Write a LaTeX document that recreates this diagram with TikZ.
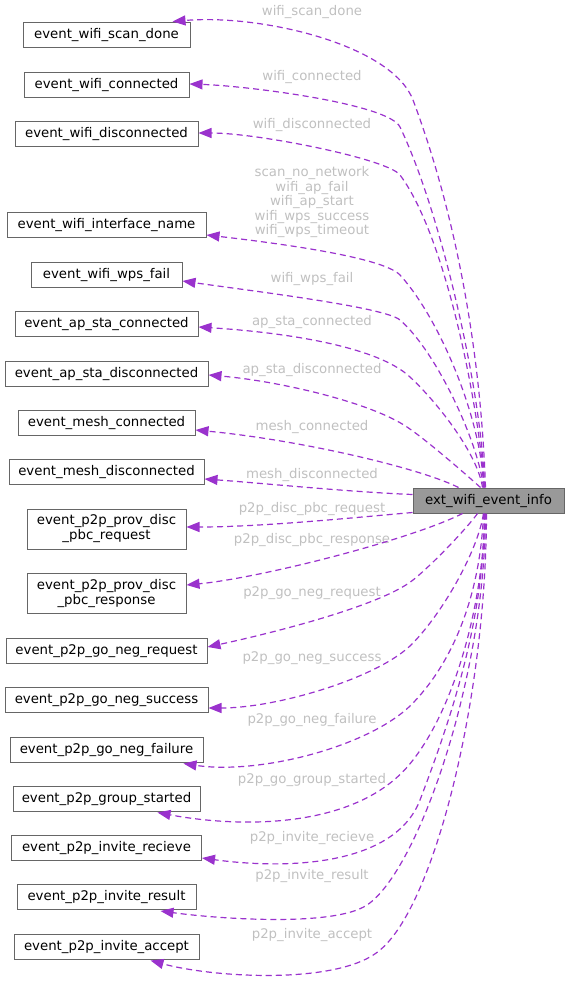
\documentclass[tikz,border=0pt]{standalone}
\usepackage{fontspec}
\setmainfont{DejaVu Sans}
\usetikzlibrary{arrows.meta,calc}
\definecolor{edgec}{HTML}{9A32CD}
\definecolor{labc}{HTML}{C0C0C0}
\definecolor{boxc}{HTML}{666666}
\definecolor{mainfill}{HTML}{999999}
\begin{document}
\begin{tikzpicture}[x=1pt,y=-1pt,
  box/.style={draw=boxc, line width=1pt, fill=white, minimum height=25pt, inner xsep=2pt, inner ysep=0pt,
    font=\fontsize{13.3}{15}\selectfont, text height=10pt, text depth=3pt},
  box2/.style={draw=boxc, line width=1pt, fill=white, minimum height=40pt, inner xsep=2pt, inner ysep=0pt,
    font=\fontsize{13.3}{15}\selectfont, align=center},
  lab/.style={text=labc, inner sep=0pt, anchor=base, font=\fontsize{13.3}{14.5}\selectfont},
  rel/.style={draw=edgec, line width=1.2pt, dash pattern=on 6pt off 4pt, -{Triangle[length=13pt,width=10pt]}}]
\useasboundingbox (0,0) rectangle (569,984);
% nodes
\node[box, fill=mainfill, minimum width=151pt] (main) at (488.5,500.5) {ext\_wifi\_event\_info};
\node[box, minimum width=167pt] (n1) at (106.5,35.5) {event\_wifi\_scan\_done};
\node[box, minimum width=165pt] (n2) at (106.5,85.5) {event\_wifi\_connected};
\node[box, minimum width=183pt] (n3) at (106.5,134.5) {event\_wifi\_disconnected};
\node[box, minimum width=199pt] (n4) at (106.5,225.5) {event\_wifi\_interface\_name};
\node[box, minimum width=151pt] (n5) at (106.5,274.5) {event\_wifi\_wps\_fail};
\node[box, minimum width=183pt] (n6) at (106.5,323.5) {event\_ap\_sta\_connected};
\node[box, minimum width=203pt] (n7) at (106.5,373.5) {event\_ap\_sta\_disconnected};
\node[box, minimum width=177pt] (n8) at (106.5,422.5) {event\_mesh\_connected};
\node[box, minimum width=195pt] (n9) at (106.5,471.5) {event\_mesh\_disconnected};
\node[box2, minimum width=159pt] (n10) at (106.5,529) {event\_p2p\_prov\_disc\\\_pbc\_request};
\node[box2, minimum width=159pt] (n11) at (106.5,593.5) {event\_p2p\_prov\_disc\\\_pbc\_response};
\node[box, minimum width=201pt] (n12) at (106.5,650.5) {event\_p2p\_go\_neg\_request};
\node[box, minimum width=203pt] (n13) at (106.5,699.5) {event\_p2p\_go\_neg\_success};
\node[box, minimum width=193pt] (n14) at (106.5,749.5) {event\_p2p\_go\_neg\_failure};
\node[box, minimum width=187pt] (n15) at (106.5,798.5) {event\_p2p\_group\_started};
\node[box, minimum width=190pt] (n16) at (106.5,847.5) {event\_p2p\_invite\_recieve};
\node[box, minimum width=179pt] (n17) at (106.5,897) {event\_p2p\_invite\_result};
\node[box, minimum width=185pt] (n18) at (106.5,946.5) {event\_p2p\_invite\_accept};
% labels
\node[lab] (l1) at (312,16) {wifi\_scan\_done};
\node[lab] (l2) at (312,81) {wifi\_connected};
\node[lab] (l3) at (312,128.5) {wifi\_disconnected};
\node[lab, anchor=center, align=center] (l4) at (312,202.5) {scan\_no\_network\\wifi\_ap\_fail\\wifi\_ap\_start\\wifi\_wps\_success\\wifi\_wps\_timeout};
\node[lab] (l5) at (312,282) {wifi\_wps\_fail};
\node[lab] (l6) at (312,325) {ap\_sta\_connected};
\node[lab] (l7) at (312,373) {ap\_sta\_disconnected};
\node[lab] (l8) at (312,430) {mesh\_connected};
\node[lab] (l9) at (312,478) {mesh\_disconnected};
\node[lab] (l10) at (312,512) {p2p\_disc\_pbc\_request};
\node[lab] (l11) at (312,543) {p2p\_disc\_pbc\_response};
\node[lab] (l12) at (312,596) {p2p\_go\_neg\_request};
\node[lab] (l13) at (312,661) {p2p\_go\_neg\_success};
\node[lab] (l14) at (312,723) {p2p\_go\_neg\_failure};
\node[lab] (l15) at (312,783) {p2p\_go\_group\_started};
\node[lab] (l16) at (312,841) {p2p\_invite\_recieve};
\node[lab] (l17) at (312,879) {p2p\_invite\_result};
\node[lab] (l18) at (312,938) {p2p\_invite\_accept};
% start points on main
\coordinate (s1) at ($(main.north west)+(73,0)$);
\coordinate (s2) at ($(main.north west)+(72,0)$);
\coordinate (s3) at ($(main.north west)+(72,0)$);
\coordinate (s4) at ($(main.north west)+(71,0)$);
\coordinate (s5) at ($(main.north west)+(71,0)$);
\coordinate (s6) at ($(main.north west)+(70,0)$);
\coordinate (s7) at ($(main.north west)+(68,0)$);
\coordinate (s8) at ($(main.north west)+(46,0)$);
\coordinate (s9) at ($(main.north west)+(0,7)$);
\coordinate (s10) at ($(main.south west)+(0,-1)$);
\coordinate (s11) at ($(main.south west)+(50,0)$);
\coordinate (s12) at ($(main.south west)+(65,0)$);
\coordinate (s13) at ($(main.south west)+(71,0)$);
\coordinate (s14) at ($(main.south west)+(71,0)$);
\coordinate (s15) at ($(main.south west)+(72,0)$);
\coordinate (s16) at ($(main.south west)+(72,0)$);
\coordinate (s17) at ($(main.south west)+(73,0)$);
\coordinate (s18) at ($(main.south west)+(74,0)$);
% tips
\coordinate (t1) at ($(n1.north east)+(-18,-1)$);
\coordinate (t2) at ($(n2.east)+(0,-1.5)$);
\coordinate (t3) at ($(n3.east)+(0,-1.5)$);
\coordinate (t4) at ($(n4.east)+(0,9.5)$);
\coordinate (t5) at ($(n5.east)+(0,6.5)$);
\coordinate (t6) at ($(n6.east)+(0,3.5)$);
\coordinate (t7) at ($(n7.east)+(0,1.5)$);
\coordinate (t8) at ($(n8.east)+(0,7.5)$);
\coordinate (t9) at ($(n9.east)+(0,7.5)$);
\coordinate (t10) at ($(n10.east)+(0,-2)$);
\coordinate (t11) at ($(n11.east)+(0,-8.5)$);
\coordinate (t12) at ($(n12.east)+(0,-3.5)$);
\coordinate (t13) at ($(n13.east)+(0,8.5)$);
\coordinate (t14) at ($(n14.south east)+(-20,1)$);
\coordinate (t15) at ($(n15.south east)+(-43,1)$);
\coordinate (t16) at ($(n16.east)+(0,10.5)$);
\coordinate (t17) at ($(n17.south east)+(-36,1)$);
\coordinate (t18) at ($(n18.south east)+(-49,1)$);
% edges
\draw[rel] (s1) .. controls (481,358) and (458,220) .. (413,100) .. controls (392,45) and (262,14) .. (t1);
\draw[rel] (s2) .. controls (482,390) and (440,210) .. (400,127) .. controls (389,104) and (249,86) .. (t2);
\draw[rel] (s3) .. controls (478,400) and (445,235) .. (400,175) .. controls (388,159) and (258,133) .. (t3);
\draw[rel] (s4) .. controls (482,420) and (440,319) .. (400,275) .. controls (383,257) and (276,243) .. (t4);
\draw[rel] (s5) .. controls (478,440) and (435,350) .. (400,320) .. controls (385,307) and (252,291) .. (t5);
\draw[rel] (s6) .. controls (478,455) and (439,404) .. (410,377) .. controls (376,345) and (278,332) .. (t6);
\draw[rel] (s7) .. controls (470,478) and (428,441) .. (407,427) .. controls (370,402) and (278,381) .. (t7);
\draw[rel] (s8) .. controls (420,468) and (300,440) .. (t8);
\draw[rel] (s9) .. controls (350,492) and (260,483) .. (t9);
\draw[rel] (s10) .. controls (350,518) and (260,527) .. (t10);
\draw[rel] (s11) .. controls (410,540) and (260,578) .. (t11);
\draw[rel] (s12) .. controls (468,527) and (432,565) .. (413,580) .. controls (382,605) and (277,632) .. (t12);
\draw[rel] (s13) .. controls (478,550) and (444,611) .. (413,643) .. controls (381,677) and (278,708) .. (t13);
\draw[rel] (s14) .. controls (481,580) and (461,653) .. (413,703) .. controls (372,746) and (260,775) .. (t14);
\draw[rel] (s15) .. controls (484,600) and (456,705) .. (413,760) .. controls (360,830) and (240,828) .. (t15);
\draw[rel] (s16) .. controls (484,620) and (452,716) .. (420,800) .. controls (395,865) and (290,870) .. (t16);
\draw[rel] (s17) .. controls (485,680) and (417,872) .. (367,905) .. controls (334,927) and (220,919) .. (t17);
\draw[rel] (s18) .. controls (486,700) and (434,906) .. (380,950) .. controls (340,985) and (215,978) .. (t18);
\end{tikzpicture}
\end{document}
